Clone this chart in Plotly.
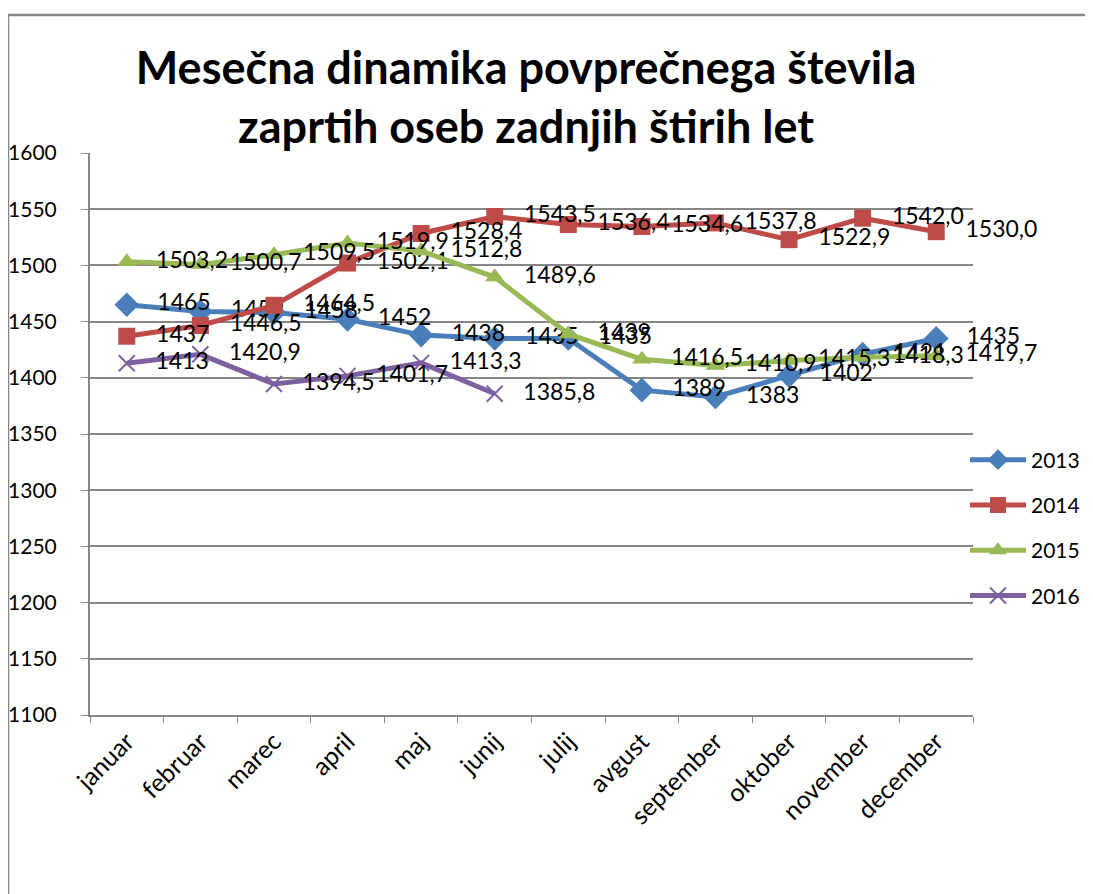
import plotly.graph_objects as go

months = ["januar", "februar", "marec", "april", "maj", "junij", "julij",
          "avgust", "september", "oktober", "november", "december"]
y2013 = [1465, 1459, 1458, 1452, 1438, 1435, 1435, 1389, 1383, 1402, 1421, 1435]
y2014 = [1437, 1446.5, 1464.5, 1502.1, 1528.4, 1543.5, 1536.4, 1534.6, 1537.8, 1522.9, 1542.0, 1530.0]
y2015 = [1503.2, 1500.7, 1509.5, 1519.9, 1512.8, 1489.6, 1439, 1416.5, 1410.9, 1415.3, 1418.3, 1419.7]
y2016 = [1413, 1420.9, 1394.5, 1401.7, 1413.3, 1385.8]
labels2013 = ["1465", "1459", "1458", "1452", "1438", "1435", "1435", "1389", "1383", "1402", "1421", "1435"]
labels2014 = ["1437", "1446,5", "1464,5", "1502,1", "1528,4", "1543,5", "1536,4", "1534,6", "1537,8", "1522,9", "1542,0", "1530,0"]
labels2015 = ["1503,2", "1500,7", "1509,5", "1519,9", "1512,8", "1489,6", "1439", "1416,5", "1410,9", "1415,3", "1418,3", "1419,7"]
labels2016 = ["1413", "1420,9", "1394,5", "1401,7", "1413,3", "1385,8"]

series = [
    ("2013", y2013, labels2013, "#4A7EBB", "diamond", 19),
    ("2014", y2014, labels2014, "#BE4B48", "square", 17),
    ("2015", y2015, labels2015, "#98B954", "triangle-up", 17),
    ("2016", y2016, labels2016, "#7D60A0", "x-thin", 16),
]

FONT = "Lato"
PAD = "\u00a0\u00a0\u00a0"  # gap between marker and its data label
fig = go.Figure()
for name, ys, labs, col, sym, ms in series:
    marker = dict(symbol=sym, size=ms, color=col)
    if sym == "x-thin":
        marker["line"] = dict(color=col, width=2)
    fig.add_trace(go.Scatter(
        x=months[:len(ys)], y=ys, name=name, mode="lines+markers+text",
        text=[PAD + t for t in labs], textposition="middle right",
        textfont=dict(family=FONT, size=23, color="#000000"),
        line=dict(color=col, width=5), marker=marker,
        legendgroup=name, cliponaxis=False,
    ))

# page body has an 8px margin: figure coords = screen coords - 8
OFF = 8
W, H = 1093 - OFF, 894 - OFF
L, R, T, B = 90 - OFF, 973 - OFF, 153 - OFF, 715 - OFF
pw, ph = R - L, B - T

def px(x):
    return (x - OFF - L) / pw

def py(y):
    return (B - (y - OFF)) / ph

fig.update_layout(
    width=W, height=H,
    margin=dict(l=L, r=W - R, t=T, b=H - B, autoexpand=False),
    paper_bgcolor="white", plot_bgcolor="white",
    font=dict(family=FONT, size=20, color="#000000"),
    title=dict(text="<b>Mesečna dinamika povprečnega števila<br>zaprtih oseb zadnjih štirih let</b>",
               x=518 / W, xanchor="center", y=0.914, yanchor="middle",
               font=dict(family=FONT, size=45, color="#000000")),
    showlegend=True,
    legend=dict(x=px(965), xanchor="left", y=py(528), yanchor="middle",
                font=dict(family=FONT, size=21), itemwidth=56,
                tracegroupgap=15, bgcolor="rgba(0,0,0,0)"),
    xaxis=dict(type="category", range=[-0.5, 11.5], showgrid=False,
               showline=True, linecolor="#868686", linewidth=2,
               ticks="outside", tickson="boundaries", ticklen=6, tickcolor="#868686",
               tickangle=-45, tickfont=dict(family=FONT, size=25), automargin=False),
    yaxis=dict(range=[1100, 1600], dtick=50, showgrid=True, gridcolor="#868686", gridwidth=1.5,
               showline=True, linecolor="#868686", linewidth=2,
               ticks="outside", ticklen=7, tickcolor="#868686", ticklabelstandoff=20,
               tickfont=dict(family=FONT, size=21), zeroline=False, automargin=False),
    shapes=[
        dict(type="line", xref="paper", yref="paper", x0=px(8), x1=px(8), y0=py(15), y1=py(900),
             line=dict(color="#868686", width=2.5)),
        dict(type="line", xref="paper", yref="paper", x0=px(8), x1=px(1100), y0=py(15), y1=py(15),
             line=dict(color="#868686", width=2.5)),
    ],
)

fig.write_html("out.html")
